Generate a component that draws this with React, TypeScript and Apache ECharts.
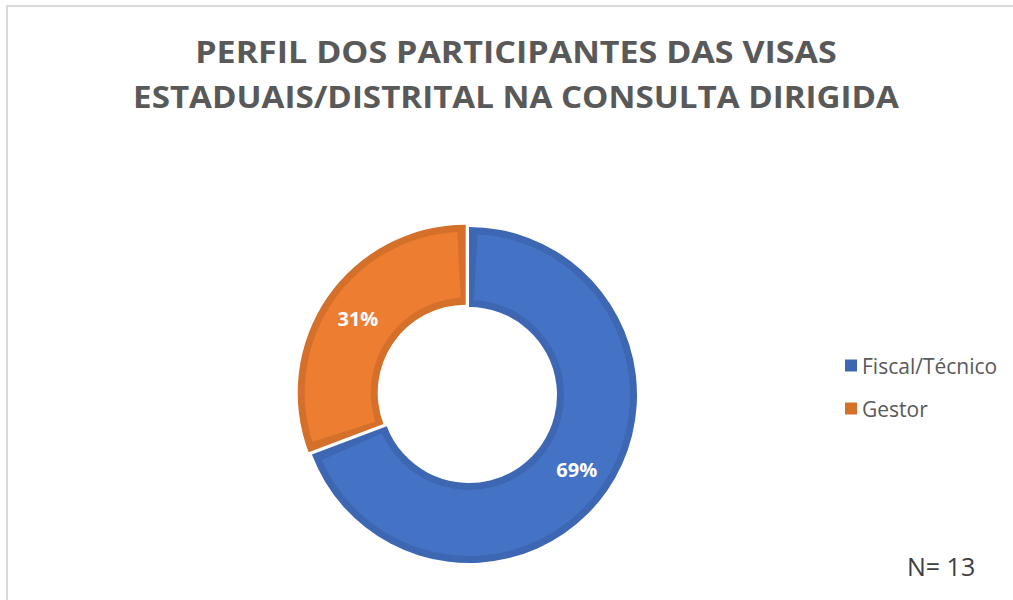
import React, { useEffect, useRef } from "react";
import * as echarts from "echarts";

const categories = ["Fiscal/Técnico", "Gestor"];
const values = [9, 4];
const percentLabels = ["69%", "31%"];
const fillColors = ["#4472C4", "#ED7D31"];
const edgeColors = ["#3D67B3", "#D5702B"];
const titleLines = [
  "PERFIL DOS PARTICIPANTES DAS VISAS",
  "ESTADUAIS/DISTRITAL NA CONSULTA DIRIGIDA",
];
const noteText = "N= 13";

export default function App() {
  const ref = useRef<HTMLDivElement>(null);
  useEffect(() => {
    if (!ref.current) return;
    const chart = echarts.init(ref.current, undefined, { renderer: "svg" });
    const center = [469, 395];
    chart.setOption({
      animation: false,
      backgroundColor: "#ffffff",
      graphic: [
        {
          type: "rect",
          z: -10,
          shape: { x: 7, y: 6, width: 1020, height: 610 },
          style: { fill: "#ffffff", stroke: "#D9D9D9", lineWidth: 2 },
        },
        {
          type: "text",
          x: 516,
          y: 51,
          scaleX: 1.135,
          style: {
            text: titleLines[0],
            font: "bold 30px 'Open Sans'",
            fill: "#595959",
            align: "center",
            verticalAlign: "middle",
          },
        },
        {
          type: "text",
          x: 516,
          y: 96,
          scaleX: 1.105,
          style: {
            text: titleLines[1],
            font: "bold 30px 'Open Sans'",
            fill: "#595959",
            align: "center",
            verticalAlign: "middle",
          },
        },
        {
          type: "text",
          x: 907,
          y: 566,
          style: {
            text: noteText,
            font: "25px 'Open Sans'",
            fill: "#404040",
            align: "left",
            verticalAlign: "middle",
          },
        },
      ],
      legend: {
        orient: "vertical",
        left: 840,
        top: 350,
        itemWidth: 12,
        itemHeight: 12,
        itemGap: 22,
        icon: "rect",
        data: categories,
        textStyle: { fontFamily: "Open Sans", fontSize: 21, color: "#595959" },
        selectedMode: false,
      },
      series: [
        {
          type: "pie",
          silent: true,
          center,
          radius: [88, 168],
          startAngle: 90,
          clockwise: true,
          selectedMode: "single",
          selectedOffset: 4,
          label: { show: false },
          labelLine: { show: false },
          emphasis: { disabled: true },
          data: categories.map((c, i) => ({
            name: c,
            value: values[i],
            selected: i === 1,
            itemStyle: { color: edgeColors[i] },
          })),
        },
        {
          type: "pie",
          silent: true,
          center,
          radius: [95, 161],
          startAngle: 90,
          clockwise: true,
          padAngle: 6,
          selectedMode: "single",
          selectedOffset: 4,
          labelLine: { show: false },
          emphasis: { disabled: true },
          label: {
            show: true,
            position: "inside",
            color: "#ffffff",
            fontFamily: "Open Sans",
            fontWeight: "bold",
            fontSize: 20,
            formatter: (p: any) => percentLabels[p.dataIndex],
          },
          data: categories.map((c, i) => ({
            name: c,
            value: values[i],
            selected: i === 1,
            itemStyle: { color: fillColors[i] },
          })),
        },
      ],
    });
    return () => chart.dispose();
  }, []);
  return (
    <div
      ref={ref}
      style={{ position: "fixed", left: 0, top: 0, width: 1013, height: 600 }}
    />
  );
}
